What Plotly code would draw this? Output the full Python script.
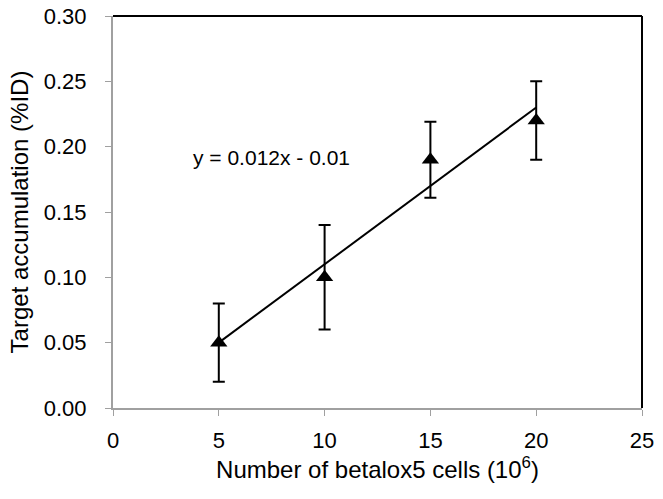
import plotly.graph_objects as go

cells = [5, 10, 15, 20]
accum = [0.05, 0.10, 0.19, 0.22]
err = [0.03, 0.04, 0.029, 0.03]
slope, intercept = 0.012, -0.01
x_ticks = [0, 5, 10, 15, 20, 25]
y_ticks = [0.00, 0.05, 0.10, 0.15, 0.20, 0.25, 0.30]

fit_x = [min(cells), max(cells)]
fit_y = [slope * v + intercept for v in fit_x]

FONT = "Liberation Sans, Arial, sans-serif"
fig = go.Figure()
fig.add_trace(go.Scatter(x=fit_x, y=fit_y, mode="lines",
                         line=dict(color="black", width=2), showlegend=False, hoverinfo="skip"))
fig.add_trace(go.Scatter(x=cells, y=accum, mode="markers",
                         marker=dict(symbol="triangle-up", size=15, color="black"),
                         error_y=dict(type="data", array=err, visible=True, color="black",
                                      thickness=2, width=6),
                         showlegend=False))

fig.add_annotation(x=7.47, y=0.192, xref="x", yref="y", text="y = 0.012x - 0.01",
                   showarrow=False, font=dict(family=FONT, size=21, color="black"))

# top & right borders black
fig.add_shape(type="line", xref="paper", yref="paper", x0=0, x1=1, y0=1, y1=1,
              line=dict(color="black", width=2))
fig.add_shape(type="line", xref="paper", yref="paper", x0=1, x1=1, y0=0, y1=1,
              line=dict(color="black", width=2))

fig.update_layout(
    width=663, height=499,
    margin=dict(l=113, r=21, t=16, b=91),
    plot_bgcolor="white", paper_bgcolor="white",
    font=dict(family=FONT, size=22, color="black"),
    xaxis=dict(range=[0, 25], tickvals=x_ticks, ticktext=[str(v) for v in x_ticks],
               automargin=False,
               showgrid=False, zeroline=False, showline=True, linecolor="#a0a0a0", linewidth=2,
               ticks="outside", ticklen=6, tickcolor="#a0a0a0", tickwidth=1,
               tickfont=dict(size=22), ticklabelstandoff=6, ticklabeloverflow="allow",
               title=dict(text="Number of betalox5 cells (10<sup>6</sup>)", font=dict(size=24), standoff=8)),
    yaxis=dict(range=[0, 0.30], tickvals=y_ticks, ticktext=[f"{v:.2f}" for v in y_ticks],
               automargin=False,
               showgrid=False, zeroline=False, showline=True, linecolor="#a0a0a0", linewidth=2,
               ticks="outside", ticklen=6, tickcolor="#a0a0a0", tickwidth=1,
               tickfont=dict(size=22), ticklabelstandoff=14, ticklabeloverflow="allow",
               title=dict(text="Target accumulation (%ID)", font=dict(size=24), standoff=8)),
)

fig.write_html("out.html", config={"displayModeBar": False},
               post_script="document.body.style.margin='0';")
